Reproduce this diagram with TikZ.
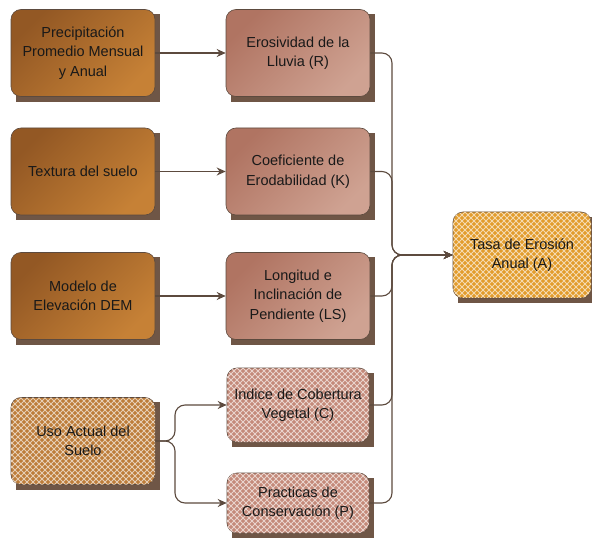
\documentclass[tikz,border=0pt]{standalone}
\usepackage{fontspec}
\setmainfont{Liberation Sans}
\usetikzlibrary{arrows.meta, backgrounds, patterns.meta}

\definecolor{linebrown}{HTML}{5C4A3E}
\definecolor{shadowbrown}{HTML}{6F5646}
\definecolor{ochreA}{HTML}{935824}
\definecolor{ochreB}{HTML}{C68136}
\definecolor{roseA}{HTML}{B07462}
\definecolor{roseB}{HTML}{CFA292}
\definecolor{rosebase}{HTML}{C48A7A}
\definecolor{ochrebase}{HTML}{BD7D3A}
\definecolor{goldbase}{HTML}{E29C2C}

\tikzdeclarepattern{
  name=lattice,
  type=uncolored,
  bounding box={(-1pt,-1pt) and (7pt,7pt)},
  tile size={(6pt,6pt)},
  code={\draw[line width=1pt] (0pt,0pt) -- (6pt,6pt) (0pt,6pt) -- (6pt,0pt);}
}

\tikzset{
  box/.style={draw=linebrown, line width=0.6pt, rounded corners=10pt,
    minimum width=144pt, minimum height=87pt, inner sep=2pt, align=center,
    text=black!90, font=\fontsize{14.5}{19.5}\selectfont},
  inbox/.style={box, top color=ochreA, bottom color=ochreB, shading angle=45},
  factor/.style={box, top color=roseA, bottom color=roseB, shading angle=45},
  hatched/.style={box, fill=#1, postaction={pattern=lattice, pattern color=white!62!#1}},
  link/.style={draw=linebrown, line width=1.1pt, rounded corners=10pt,
    -{Stealth[length=9pt, width=8pt]}},
}

\begin{document}
\begin{tikzpicture}[x=1pt, y=1pt]
\useasboundingbox (0,0) rectangle (592,539);
% inputs
\node[inbox] (PP) at (83,486) {Precipitación\\Promedio Mensual\\y Anual};
\node[inbox] (TS) at (83,367.5) {Textura del suelo};
\node[inbox] (DEM) at (83,243) {Modelo de\\Elevación DEM};
\node[hatched=ochrebase] (US) at (83,98) {Uso Actual del\\Suelo};
% factors
\node[factor] (R) at (298,486) {Erosividad de la\\Lluvia (R)};
\node[factor] (K) at (298,367.5) {Coeficiente de\\Erodabilidad (K)};
\node[factor] (LS) at (298,243) {Longitud e\\Inclinación de\\Pendiente (LS)};
\node[hatched=rosebase, minimum width=142pt, minimum height=74pt] (C) at (298,134) {Indice de Cobertura\\Vegetal (C)};
\node[hatched=rosebase, minimum width=142pt, minimum height=60pt] (P) at (298,36) {Practicas de\\Conservación (P)};
% result
\node[hatched=goldbase, minimum width=138pt, minimum height=86pt] (A) at (522,284) {Tasa de Erosión\\Anual (A)};
\coordinate (J) at (392,284);
\coordinate (B) at (175,98);

\begin{scope}[on background layer]
\foreach \n in {PP,TS,DEM,US,R,K,LS,C,P,A}
  \fill[shadowbrown] ([shift={(5,-5)}]\n.south west) rectangle ([shift={(5,-5)}]\n.north east);
\end{scope}

\draw[link] (PP) -- (R);
\draw[link] (TS) -- (K);
\draw[link] (DEM) -- (LS);
\draw[link] (US.east) -- (B) |- (C.west);
\draw[link] (US.east) -- (B) |- (P.west);
\foreach \n in {R,K,LS,C,P}
  \draw[link] (\n.east) -| (J) -- (A.west);
\end{tikzpicture}
\end{document}
